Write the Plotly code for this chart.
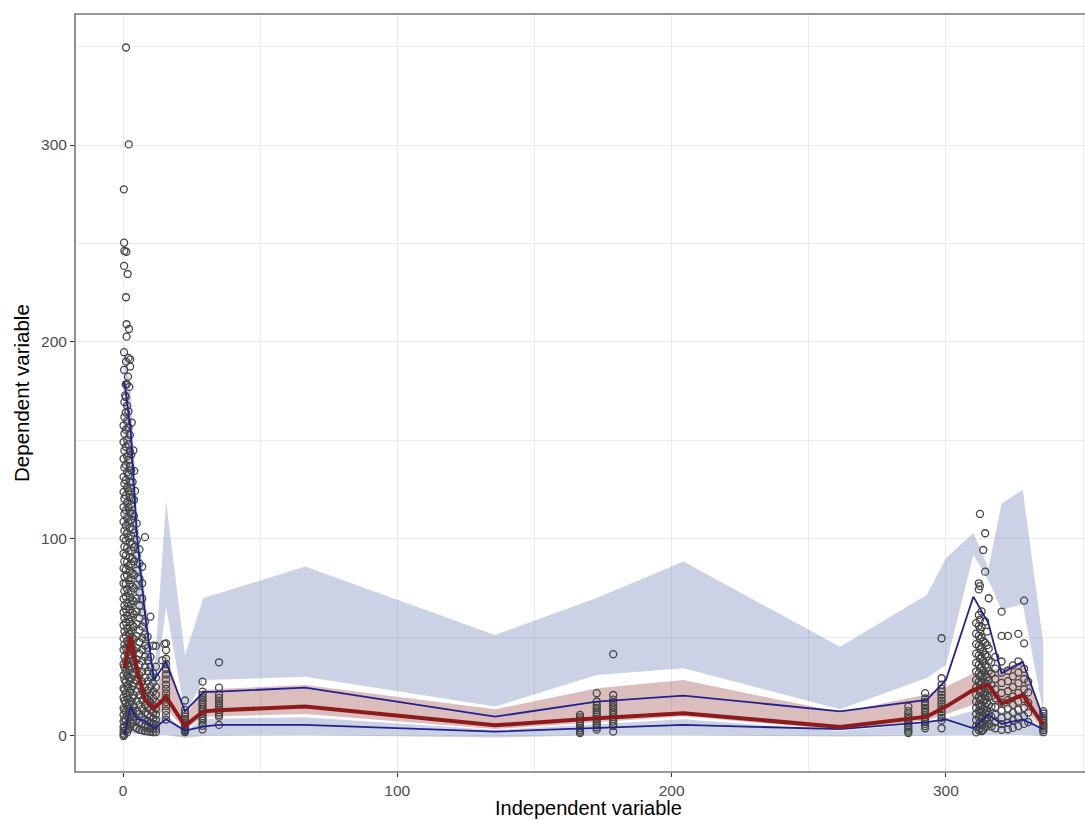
import plotly.graph_objects as go

# ---- binned summary (x = bin midpoint) ----
bin_time = [0.5, 2.8, 5.0, 8.0, 11.3, 15.7, 22.6, 29.3, 34.7, 66.4, 135.6, 172.7,
            204.3, 261.4, 293.0, 300.0, 310.0, 315.5, 320.3, 328.0, 335.5]

# simulated 95th percentile: confidence interval
p95_ci_lo = [100, 110, 70, 38, 18, 65.6, 11, 28.4, 28.6, 30, 14.9, 31, 34.4, 13.5,
             29.4, 36, 92, 79, 64, 67, 12]
p95_ci_hi = [200, 175, 115, 72, 30, 119, 41, 70, 72.3, 86, 51.3, 70, 88.5, 45.3,
             71.6, 90.2, 103, 85.1, 118, 125, 47]
# simulated median: confidence interval
p50_ci_lo = [25, 38, 24, 14, 9, 14, 3, 9.8, 10.2, 11.2, 3.5, 7, 10, 3.2, 8, 11, 16,
             19, 14, 15, 3]
p50_ci_hi = [45, 58, 40, 27, 17, 42, 10, 23.4, 23.8, 25.9, 13.5, 24.2, 28.4, 12, 21,
             25, 31.8, 33, 34.5, 37.7, 10]
# simulated 5th percentile: confidence interval
p5_ci_lo = [0, 1.5, 1, 0.5, 0.3, 0.5, -1, 0, 0.1, 0.3, -0.8, 0.3, 0.3, -0.3, 0, 0.3,
            0.5, 0.5, 0.5, 0.5, 0]
p5_ci_hi = [10, 20, 16, 11, 8, 11, 2.5, 8.5, 8.8, 9.5, 3, 6, 8.5, 2.5, 6.5, 9, 13, 15,
            12, 13, 2.5]

# observed percentiles
obs_p95 = [180, 155, 103, 62, 28.4, 37.5, 12.5, 22.3, 22.5, 24.5, 9.8, 17.4, 20.5,
           12.5, 18.3, 28.4, 70.7, 57.2, 31.8, 37.7, 9]
obs_p50 = [34.5, 50.4, 34, 18.5, 14, 19.8, 5.1, 12.5, 13, 15, 5.4, 9, 11.5, 4.6, 9.8,
           14.9, 23.4, 25.9, 16.6, 20.8, 5.6]
obs_p5 = [0.3, 15, 8.5, 7.8, 3.9, 8.5, 2.7, 4.7, 5.6, 5.6, 2.2, 3.9, 5.6, 3.5, 7, 8.4,
          3.9, 10.7, 6.1, 8.4, 3.4]

# ---- observations, grouped by sampling column ----
col_time = [0.2, 0.5, 1.0, 1.5, 2.0, 2.5, 3.0, 3.5, 4.0, 5.0, 6.0, 7.0, 8.0, 9.0,
            10.0, 11.0, 12.0, 15.7, 22.6, 29.0, 35.0, 166.6, 172.7, 178.7, 286.3,
            292.4, 298.4, 311.0, 312.0, 312.4, 313.0, 313.6, 314.3, 315.0, 315.6,
            316.6, 318.0, 320.3, 322.6, 324.4, 326.4, 328.5, 330.0, 335.5]
col_dv = [
    [0.0, 1.2, 2.6, 4.5, 7.3, 10.8, 14.1, 19.5, 24.2, 30.8, 36.4, 43.9, 49.5, 56.2,
     62.8, 69.7, 77.4, 85.1, 92.6, 100.3, 108.8, 116.2, 123.9, 131.5, 140.7, 149.2, 157.6],
    [0.6, 4.8, 8.7, 13.2, 17.9, 23.4, 28.6, 34.9, 40.3, 46.5, 53.1, 59.8, 66.2, 73.5,
     80.9, 88.6, 96.1, 104.2, 112.7, 120.4, 128.1, 136.3, 144.8, 153.4, 161.9, 169.5],
    [2.9, 7.6, 12.4, 16.8, 21.7, 27.3, 32.6, 38.2, 44.7, 50.9, 57.6, 64.3, 70.8, 77.2,
     84.4, 91.7, 99.2, 106.8, 114.5, 122.1, 129.9, 137.6, 146.8, 155.5, 164.2, 172.0, 178.4],
    [1.8, 5.9, 10.3, 15.2, 19.8, 25.1, 30.7, 36.1, 42.4, 48.2, 54.8, 61.3, 67.7, 74.6,
     81.5, 88.2, 95.4, 102.9, 110.6, 118.3, 126.0, 133.7, 141.9, 150.3, 159.8, 167.6],
    [3.6, 8.9, 13.8, 18.7, 24.3, 29.6, 35.2, 41.1, 46.8, 52.7, 59.3, 65.9, 72.6, 79.1,
     86.3, 93.8, 100.7, 108.4, 116.1, 124.3, 132.6, 140.2, 148.1, 156.7, 164.8],
    [5.2, 10.6, 16.3, 21.9, 27.8, 33.5, 39.4, 45.6, 51.8, 57.9, 64.2, 70.3, 77.1, 83.8,
     90.7, 98.2, 105.6, 113.3, 121.2, 128.7, 136.9, 144.6, 152.8],
    [6.1, 11.8, 17.6, 23.7, 29.2, 35.4, 41.3, 47.1, 53.6, 60.2, 66.8, 73.4, 80.1, 87.3,
     94.2, 101.8, 109.7, 117.6, 125.9, 134.8, 142.7],
    [6.8, 12.9, 19.2, 25.4, 31.3, 37.8, 43.6, 49.7, 56.1, 62.5, 68.9, 75.8, 82.6, 89.9,
     97.4, 104.7, 112.8, 120.6, 128.9],
    [4.7, 9.8, 15.1, 20.6, 26.8, 32.2, 37.9, 43.5, 49.2, 55.4, 61.7, 68.3, 74.9, 81.8,
     88.7, 95.9, 103.2, 111.6, 119.8],
    [3.9, 8.2, 12.7, 17.8, 22.6, 27.9, 33.4, 38.8, 44.6, 50.7, 56.9, 63.2, 69.8, 76.7,
     83.9, 91.6, 99.5, 107.9],
    [3.1, 6.9, 11.2, 15.8, 20.7, 25.6, 30.9, 36.2, 41.8, 47.6, 53.7, 59.8, 66.1, 72.9,
     79.8, 87.6, 94.7],
    [2.8, 6.3, 9.7, 13.9, 18.2, 22.8, 27.6, 32.7, 38.1, 43.9, 49.8, 55.6, 62.7, 69.8,
     77.5, 85.9],
    [2.4, 4.9, 8.1, 11.7, 15.8, 20.1, 24.7, 29.6, 34.8, 40.2, 45.9, 51.6, 57.8, 100.9],
    [2.3, 4.7, 7.6, 10.9, 14.6, 18.7, 23.1, 27.8, 32.9, 38.4, 44.7, 50.3],
    [2.1, 4.2, 6.8, 9.7, 13.2, 16.9, 20.8, 25.2, 29.7, 34.9, 40.1, 60.6],
    [1.9, 3.9, 6.2, 8.9, 11.8, 15.3, 18.9, 22.7, 27.1, 31.8, 45.8],
    [2.0, 3.7, 5.8, 8.2, 10.9, 13.8, 17.2, 20.9, 24.8, 29.6, 35.2, 45.7],
    [47.0, 43.6, 39.2, 36.5, 33.8, 31.2, 28.7, 26.1, 23.9, 21.6, 19.4, 17.2, 15.1,
     12.8, 10.6, 8.3],
    [18.0, 13.2, 11.4, 9.8, 8.6, 7.5, 6.6, 5.7, 4.9, 4.2, 3.6, 3.0, 2.4, 1.9],
    [27.6, 22.5, 20.9, 19.6, 18.3, 17.1, 15.8, 14.6, 13.5, 12.3, 11.2, 10.1, 9.0, 7.8,
     6.5, 5.2, 3.3],
    [37.4, 24.5, 21.0, 19.3, 17.9, 16.6, 15.4, 14.2, 13.1, 11.9, 10.7, 9.8, 5.6],
    [10.7, 9.6, 8.4, 7.3, 6.2, 5.1, 4.0, 3.0, 2.1, 1.4],
    [21.7, 17.5, 15.6, 14.3, 13.1, 12.0, 10.9, 9.8, 8.7, 7.6, 6.5, 5.4, 4.3, 3.2],
    [41.5, 20.8, 18.4, 17.0, 15.7, 14.5, 13.2, 12.0, 10.8, 9.6, 8.5, 7.3, 6.1, 5.0, 2.2],
    [14.9, 12.6, 11.1, 9.9, 8.7, 7.6, 6.5, 5.4, 4.3, 3.2, 2.2, 1.5],
    [21.7, 19.0, 17.1, 15.6, 14.2, 13.0, 11.8, 10.6, 9.5, 8.3, 7.2, 6.1, 5.0, 3.9],
    [49.6, 29.3, 26.0, 24.1, 22.4, 20.9, 19.4, 17.9, 16.5, 15.0, 13.6, 12.1, 10.6, 9.2,
     7.9, 3.9],
    [1.8, 4.9, 8.1, 11.2, 14.3, 17.4, 20.9, 24.6, 28.5, 32.7, 37.1, 41.8, 46.6, 51.9, 57.3],
    [2.9, 6.2, 9.4, 12.8, 16.1, 19.7, 23.5, 27.6, 31.8, 36.2, 40.9, 45.7, 50.8, 55.9,
     61.4, 74.4, 77.5],
    [3.8, 7.1, 10.2, 12.4, 15.2, 18.3, 22.2, 26.1, 30.3, 34.4, 39.2, 44.1, 49.3, 54.2,
     59.0, 112.7, 76.1],
    [2.4, 5.6, 8.8, 12.1, 15.6, 19.2, 23.1, 27.2, 31.1, 35.3, 40.2, 45.2, 50.1, 55.3, 63.2],
    [3.1, 6.6, 10.1, 13.6, 17.2, 21.1, 25.0, 29.2, 33.4, 38.1, 42.9, 48.2, 94.4],
    [4.2, 7.9, 11.6, 15.1, 18.7, 22.6, 26.7, 31.0, 35.8, 41.2, 47.3, 58.1, 102.9, 83.4],
    [5.1, 9.0, 12.9, 16.8, 20.9, 25.1, 29.8, 34.9, 40.3, 46.1, 53.0],
    [6.2, 10.9, 15.8, 19.9, 23.8, 28.1, 32.9, 38.2, 44.3, 69.9],
    [4.8, 9.7, 14.8, 20.2, 25.9, 31.7, 37.6],
    [3.9, 7.2, 10.8, 14.7, 19.1, 23.8, 28.9, 34.2, 40.1],
    [3.1, 6.0, 9.2, 12.9, 17.0, 21.8, 26.9, 32.1, 37.8, 50.8, 63.1],
    [3.4, 6.8, 10.1, 13.9, 18.2, 22.7, 27.8, 33.1, 50.8],
    [4.1, 8.0, 11.9, 15.8, 20.1, 24.9, 30.2, 35.8],
    [5.0, 9.1, 13.2, 17.4, 21.9, 26.8, 32.2, 37.9, 51.8],
    [6.1, 10.2, 14.3, 18.8, 23.7, 28.9, 34.1, 47.0, 68.7],
    [7.0, 11.8, 16.9, 22.1, 27.6],
    [1.9, 2.9, 3.8, 4.8, 5.7, 6.7, 7.8, 8.9, 10.1, 11.4, 12.6],
]

# isolated high observations shortly after the first dose
peak_time = [1.1, 2.1, 0.3, 0.4, 0.5, 1.2, 0.4, 1.7, 1.1, 1.3, 2.2, 1.3, 0.4, 2.0, 2.6,
             1.1, 2.6, 0.4, 1.8, 1.4, 2.3, 0.8, 3.2, 3.8, 4.4, 4.1, 14.3, 15.1]
peak_dv = [349.5, 300.3, 277.5, 250.4, 246.2, 245.8, 238.6, 234.5, 222.7, 209.0, 206.6,
           202.7, 194.8, 191.9, 191.2, 190.0, 187.5, 185.8, 182.4, 178.6, 177.2, 172.9,
           159.1, 145.0, 124.4, 134.6, 38.4, 46.7]

x_ticks = [0, 100, 200, 300]
y_ticks = [0, 100, 200, 300]

obs_x, obs_y = [], []
for t, ys in zip(col_time, col_dv):
    obs_x += [t] * len(ys)
    obs_y += ys
obs_x += peak_time
obs_y += peak_dv

BLUE_FILL = "rgba(47,75,155,0.25)"
RED_FILL = "rgba(135,35,38,0.30)"
BLUE_LINE = "#22228C"
RED_LINE = "#8E1B1B"
FONT = "Liberation Sans, Arial, sans-serif"


def band(lo, hi, color):
    return go.Scatter(x=bin_time + bin_time[::-1], y=hi + lo[::-1], fill="toself",
                      fillcolor=color, line=dict(width=0), mode="lines",
                      hoverinfo="skip", showlegend=False)


fig = go.Figure()
fig.add_trace(band(p95_ci_lo, p95_ci_hi, BLUE_FILL))
fig.add_trace(band(p50_ci_lo, p50_ci_hi, RED_FILL))
fig.add_trace(band(p5_ci_lo, p5_ci_hi, BLUE_FILL))

fig.add_trace(go.Scatter(x=obs_x, y=obs_y, mode="markers", showlegend=False,
                         marker=dict(symbol="circle-open", size=7, color="#454545",
                                     line=dict(width=1.3))))

for vals, col, w in [(obs_p95, BLUE_LINE, 1.8), (obs_p5, BLUE_LINE, 1.8),
                     (obs_p50, RED_LINE, 4.0)]:
    fig.add_trace(go.Scatter(x=bin_time, y=vals, mode="lines", showlegend=False,
                             line=dict(color=col, width=w)))

axis_common = dict(showgrid=True, gridcolor="#EBEBEB", gridwidth=1.1, zeroline=False,
                   ticks="outside", ticklen=4, tickwidth=1.1, tickcolor="#333333",
                   tickfont=dict(family=FONT, size=15.5, color="#4D4D4D"),
                   showline=False)

fig.update_layout(
    width=1085, height=820,
    margin=dict(l=75, r=0, t=14, b=48),
    paper_bgcolor="white", plot_bgcolor="white",
    xaxis=dict(range=[-17.5, 350.7], tickvals=x_ticks, automargin=False,
               minor=dict(tickvals=[50, 150, 250, 350], showgrid=True,
                          gridcolor="#EBEBEB", gridwidth=0.6),
               **axis_common),
    yaxis=dict(range=[-18.3, 366.5], tickvals=y_ticks, automargin=False,
               minor=dict(tickvals=[50, 150, 250, 350], showgrid=True,
                          gridcolor="#EBEBEB", gridwidth=0.6),
               **axis_common),
    shapes=[dict(type="rect", xref="paper", yref="paper", x0=0, x1=1.05, y0=0, y1=1,
                 line=dict(color="#333333", width=1.1), layer="above")],
    annotations=[
        dict(text="Independent variable", xref="paper", yref="paper", x=0.508,
             y=-0.0633, xanchor="center", yanchor="bottom", showarrow=False,
             borderpad=0,
             font=dict(family=FONT, size=20, color="black")),
        dict(text="Dependent variable", xref="paper", yref="paper", x=-0.0535,
             y=0.5, xanchor="center", yanchor="middle", textangle=-90,
             showarrow=False,
             font=dict(family=FONT, size=20.5, color="black")),
    ],
)

fig.write_html("out.html")
